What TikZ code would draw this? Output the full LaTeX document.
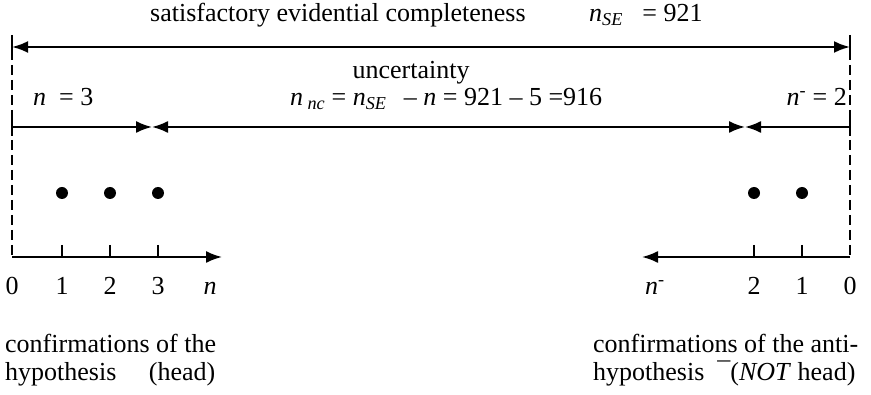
\documentclass[tikz,border=0pt]{standalone}
\usepackage{fontspec}
\setmainfont{Liberation Serif}
\usetikzlibrary{arrows.meta}
\begin{document}
\begin{tikzpicture}[x=1pt,y=-1pt,
  txt/.style={inner sep=0pt,anchor=base west,font=\fontsize{26}{29}\selectfont},
  txtc/.style={inner sep=0pt,anchor=base,font=\fontsize{26}{29}\selectfont},
  dim/.style={line width=1.9pt},
  tip/.style={-{Latex[length=16pt,width=12pt]}},
  both/.style={{Latex[length=16pt,width=12pt]}-{Latex[length=16pt,width=12pt]}},
  guide/.style={line width=1.2pt,dash pattern=on 10pt off 5pt},
  dot/.style={circle,fill=black,inner sep=0pt,minimum size=12pt},
  tick/.style={line width=1.5pt}]
\useasboundingbox (0,0) rectangle (871,395);
% guide lines
\coordinate (LT) at (12,35);
\coordinate (RT) at (850,35);
\coordinate (LO) at (12,257);
\coordinate (RO) at (850,257);
\draw[guide] (LT) -- (LO);
\draw[guide] (RT) -- (RO);
% title
\node[txt] (title) at (150,22) {satisfactory evidential completeness};
\node[txt] (nse) at (589,22) {\textit{n}\textsubscript{\textit{SE}}\enspace\ = 921};
% top arrow
\coordinate (A1) at (12,47);
\coordinate (A2) at (850,47);
\draw[dim,line width=2.3pt,both] (A1) -- (A2);
% second row
\node[txtc] (unc) at (411,79) {uncertainty};
\node[txt] (n3) at (33,106) {\textit{n}\enspace = 3};
\node[txt] (nnc) at (290,106) {\textit{n}\,\textsubscript{\textit{nc}} = \textit{n}\textsubscript{\textit{SE}}\enspace\,– \textit{n} = 921 – 5 =916};
\node[txt,anchor=base east] (nm2) at (847,106) {\textit{n}\textsuperscript{-} = 2};
\coordinate (B0) at (12,127);
\coordinate (B1) at (152,127);
\coordinate (B2) at (745,127);
\coordinate (B3) at (850,127);
\draw[dim,tip] (B0) -- (B1);
\draw[dim,both] (B1) -- (B2);
\draw[dim,tip] (B3) -- (B2);
\draw[tick] (12,118) -- (12,136);
\draw[tick] (850,118) -- (850,136);
\draw[tick] (850,38) -- (850,56);
\draw[tick] (12,38) -- (12,56);
% dots
\node[dot] (d1) at (62,193) {};
\node[dot] (d2) at (110,193) {};
\node[dot] (d3) at (158,193) {};
\node[dot] (e2) at (754,193) {};
\node[dot] (e1) at (802,193) {};
% axes
\coordinate (LA) at (222,257);
\coordinate (RA) at (642,257);
\draw[dim,tip] (LO) -- (LA);
\draw[dim,tip] (RO) -- (RA);
\foreach \x in {62,110,158,754,802} \draw[tick] (\x,245) -- (\x,257);
% axis labels
\node[txtc] (l0) at (12,295) {0};
\node[txtc] (l1) at (62,295) {1};
\node[txtc] (l2) at (110,295) {2};
\node[txtc] (l3) at (158,295) {3};
\node[txtc] (ln) at (210,295) {\textit{n}};
\node[txtc] (rn) at (655,295) {\textit{n}\textsuperscript{-}};
\node[txtc] (r2) at (754,295) {2};
\node[txtc] (r1) at (802,295) {1};
\node[txtc] (r0) at (850,295) {0};
% captions
\node[txt] (c1) at (5,353) {confirmations of the};
\node[txt] (c2) at (5,381) {hypothesis\quad\ (head)};
\node[txt] (c3) at (593,353) {confirmations of the anti-};
\node[txt] (c4) at (593,381) {hypothesis\enspace¯(\textit{NOT} head)};
\end{tikzpicture}
\end{document}
